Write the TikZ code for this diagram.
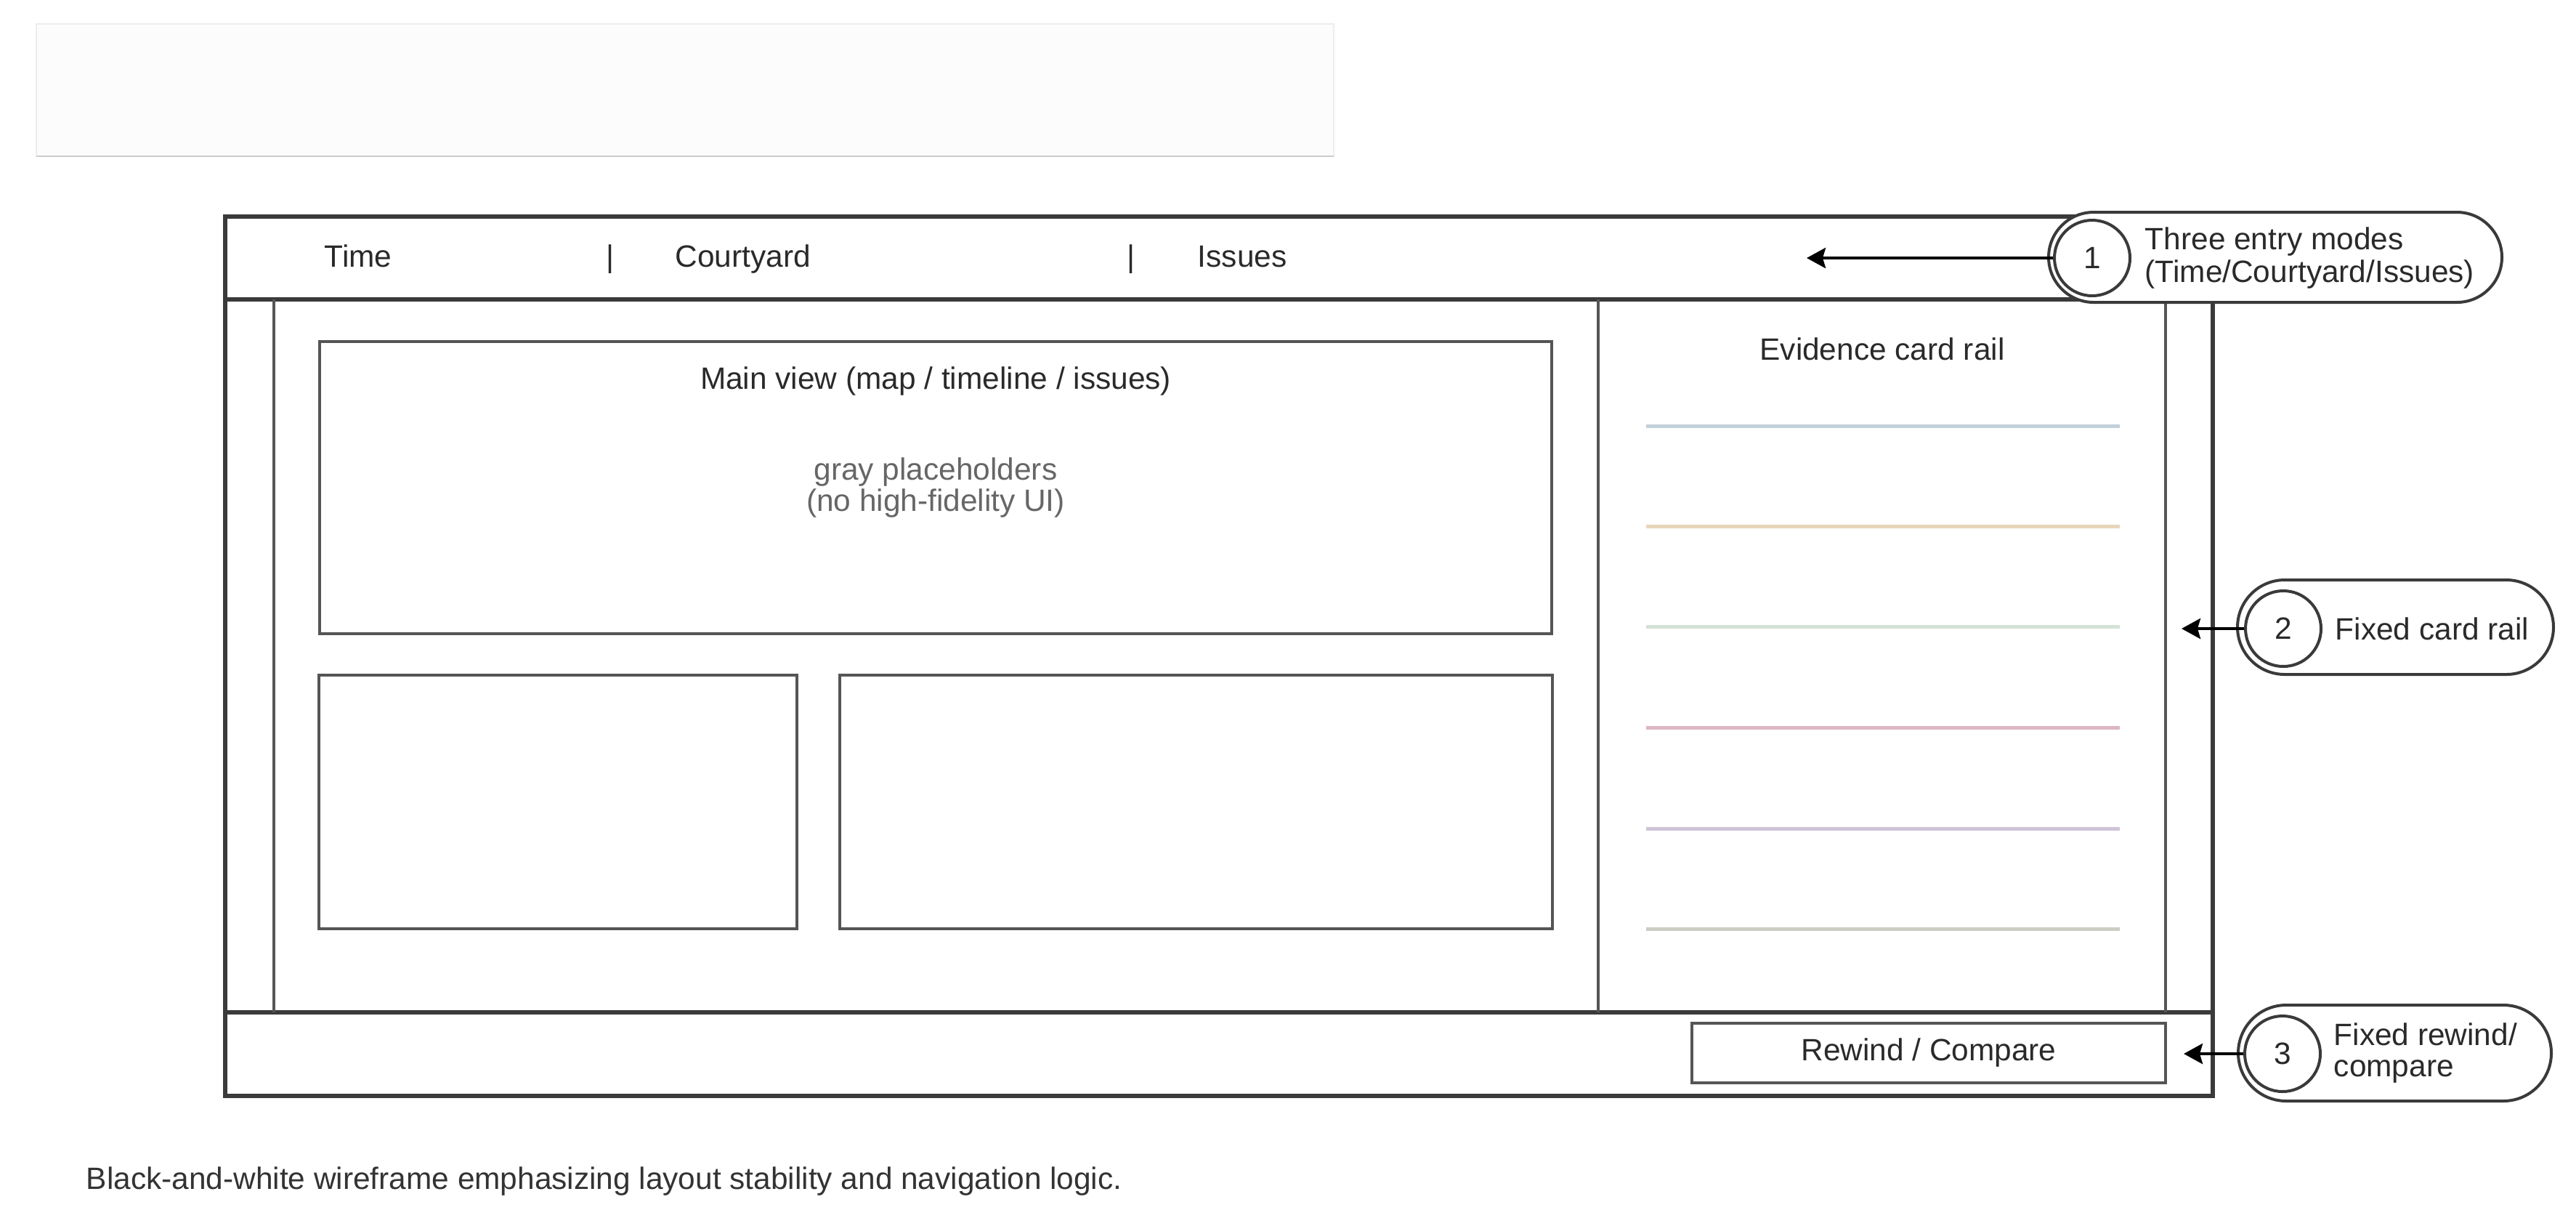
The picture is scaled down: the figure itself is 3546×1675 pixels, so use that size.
\documentclass[tikz,border=0pt]{standalone}
\usepackage{fontspec}
\setmainfont{Liberation Sans}
\usetikzlibrary{arrows.meta}
\definecolor{frameC}{HTML}{3A3A3A}
\definecolor{innerC}{HTML}{555555}
\definecolor{txtC}{HTML}{2A2A2A}
\definecolor{grayTxt}{HTML}{666666}
\definecolor{railA}{HTML}{C2D0DA}
\definecolor{railB}{HTML}{E8D6BA}
\definecolor{railC}{HTML}{D4E2D6}
\definecolor{railD}{HTML}{DDB6C4}
\definecolor{railE}{HTML}{CEC4D6}
\definecolor{railF}{HTML}{CDCDC6}
\tikzset{
  basefont/.style={font=\fontsize{10.6}{11}\selectfont},
  frameline/.style={draw=frameC, line width=1.3pt},
  innerline/.style={draw=innerC, line width=1pt},
  wbox/.style={draw=innerC, line width=1pt, fill=white, inner sep=0pt},
  lbl/.style={basefont, text=txtC, inner sep=0pt},
  pill/.style={draw=frameC, line width=1pt, fill=white, inner sep=0pt, rounded corners=15.5pt},
  badge/.style={circle, draw=frameC, line width=1pt, fill=white, inner sep=0pt, minimum size=26pt, basefont, text=txtC},
  callout/.style={-{Stealth[length=6.5pt,width=7pt,inset=1pt]}, line width=1.1pt, draw=black},
  railline/.style={line width=1.25pt}
}
\begin{document}
\begin{tikzpicture}[x=0.25pt,y=-0.25pt]
\useasboundingbox (0,0) rectangle (3546,1675);
\fill[white] (0,0) rectangle (3546,1675);

% faint empty block at top
\draw[draw=black!7, line width=0.4pt, fill=black!1] (50,33) rectangle (1836,215);
\draw[draw=black!20, line width=0.6pt] (50,215) -- (1836,215);

% main frame
\draw[frameline] (310,298) rectangle (3046,1508);
\draw[frameline] (310,412) -- (3046,412);
\draw[frameline] (310,1393) -- (3046,1393);
\draw[innerline] (377,412) -- (377,1393);
\draw[innerline] (2200,412) -- (2200,1393);
\draw[innerline] (2981,412) -- (2981,1393);

% header tabs
\node[lbl, anchor=base west] (tTime) at (446,367) {Time};
\node[lbl, anchor=base] (sep1) at (840,367) {|};
\node[lbl, anchor=base west] (tCourt) at (929,367) {Courtyard};
\node[lbl, anchor=base] (sep2) at (1557,367) {|};
\node[lbl, anchor=base west] (tIssues) at (1648,367) {Issues};

% main view
\node[wbox, minimum width=424pt, minimum height=100.5pt] (mainview) at (1288,671) {};
\node[lbl] (mainTitle) at (1288,525) {Main view (map / timeline / issues)};
\node[lbl, text=grayTxt, align=center, font=\fontsize{10.6}{10.6}\selectfont] (mainPh) at (1288,671) {gray placeholders\\(no high-fidelity UI)};

% lower boxes
\node[wbox, minimum width=164.5pt, minimum height=87.25pt] (boxL) at (768,1103.5) {};
\node[wbox, minimum width=245.25pt, minimum height=87.25pt] (boxR) at (1646.5,1103.5) {};

% evidence rail
\node[lbl] (railTitle) at (2591,480) {Evidence card rail};
\draw[railline, railA] (2266,586) -- (2918,586);
\draw[railline, railB] (2266,724) -- (2918,724);
\draw[railline, railC] (2266,862) -- (2918,862);
\draw[railline, railD] (2266,1001) -- (2918,1001);
\draw[railline, railE] (2266,1140) -- (2918,1140);
\draw[railline, railF] (2266,1278) -- (2918,1278);

% rewind / compare
\node[wbox, minimum width=163pt, minimum height=20.5pt, lbl] (rewind) at (2655,1449) {Rewind / Compare};

% callouts
\node[pill, minimum width=156pt, minimum height=31pt] (pill1) at (3132,354) {};
\node[badge] (c1) at (2880,355) {1};
\node[lbl, anchor=west, align=left, font=\fontsize{10.6}{11.25}\selectfont] (a1) at (2952,355) {Three entry modes\\(Time/Courtyard/Issues)};
\coordinate (t1) at (2487,355);
\draw[callout] (c1.west) -- (t1);

\node[pill, minimum width=108.75pt, minimum height=32.5pt, rounded corners=16.25pt] (pill2) at (3297.5,863) {};
\node[badge] (c2) at (3143,865) {2};
\node[lbl, anchor=west] (a2) at (3214,865) {Fixed card rail};
\coordinate (t2) at (3003,865);
\draw[callout] (c2.west) -- (t2);

\node[pill, minimum width=107.75pt, minimum height=33pt, rounded corners=16.5pt] (pill3) at (3296.5,1449) {};
\node[badge] (c3) at (3142,1450) {3};
\node[lbl, anchor=west, align=left, font=\fontsize{10.6}{10.75}\selectfont] (a3) at (3212,1449) {Fixed rewind/\\compare};
\coordinate (t3) at (3006,1450);
\draw[callout] (c3.west) -- (t3);

% caption
\node[lbl, anchor=base west, text=black!80] (caption) at (118,1636) {Black-and-white wireframe emphasizing layout stability and navigation logic.};
\end{tikzpicture}
\end{document}
